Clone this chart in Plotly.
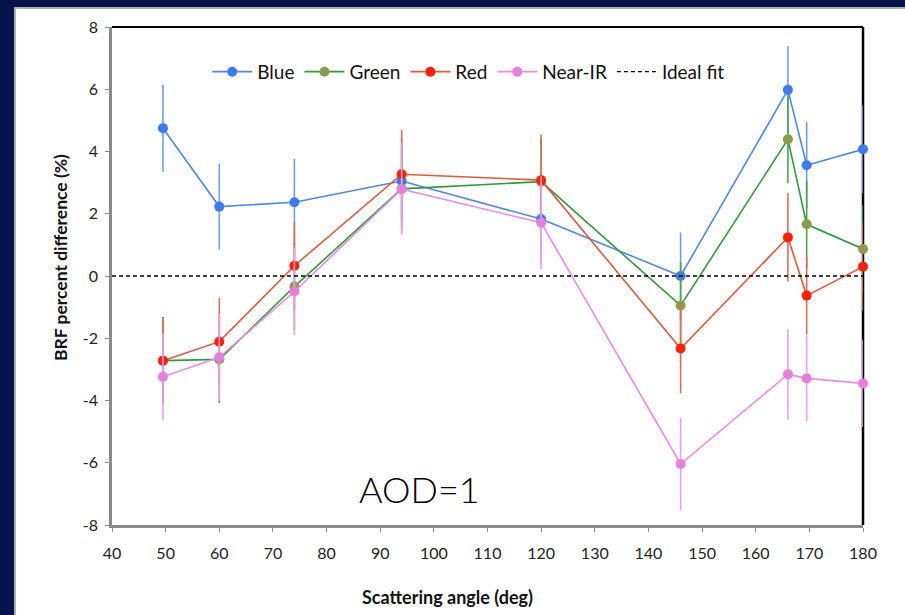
import plotly.graph_objects as go

angles = [49.5, 60, 74, 94, 120, 146, 166, 169.5, 180]
blue = [4.75, 2.23, 2.37, 3.05, 1.83, 0.0, 5.98, 3.56, 4.07]
green = [-2.72, -2.68, -0.34, 2.80, 3.03, -0.95, 4.39, 1.66, 0.87]
red = [-2.72, -2.11, 0.33, 3.27, 3.08, -2.33, 1.24, -0.63, 0.30]
nir = [-3.24, -2.61, -0.50, 2.79, 1.71, -6.04, -3.16, -3.29, -3.45]
err_blue = [1.4, 1.38, 1.4, 1.4, 1.4, 1.4, 1.4, 1.38, 1.4]
err_green = [1.4, 1.4, 1.4, 1.4, 1.4, 1.4, 1.4, 1.4, 1.4]
err_red = [1.4, 1.4, 1.4, 1.42, 1.47, 1.44, 1.42, 1.24, 1.4]
err_nir = [1.4, 1.4, 1.4, 1.47, 1.49, 1.49, 1.45, 1.39, 1.4]
ideal_x = [40, 180]
ideal_y = [0, 0]
y_ticks = [-8, -6, -4, -2, 0, 2, 4, 6, 8]
y_ticklabels = ["-8", "-6", "-4", "-2", "0", "2", "4", "6", "8"]

series = [
    ("Blue", blue, err_blue, "#4f86ee", "#3b7bf2", "#6e9cf0"),
    ("Green", green, err_green, "#2f9a3a", "#8a9d4c", "#4aa84a"),
    ("Red", red, err_red, "#e8553a", "#ff2000", "#e86a50"),
    ("Near-IR", nir, err_nir, "#e88ce8", "#e87de0", "#eba0eb"),
]

fig = go.Figure()
for name, vals, errs, lc, mc, ec in series:
    fig.add_trace(go.Scatter(
        x=angles, y=vals, name=name, mode="lines+markers",
        line=dict(color=lc, width=1.6),
        marker=dict(color=mc, size=10),
        error_y=dict(type="data", array=errs, visible=True, color=ec, thickness=1.6, width=0),
        cliponaxis=False,
    ))
fig.add_trace(go.Scatter(
    x=ideal_x, y=ideal_y, name="Ideal fit", mode="lines",
    line=dict(color="black", width=1.3, dash="4px,3px"),
))

L, R, T, B = 112, 41.5, 27, 90
W, H = 905, 615
pw, ph = W - L - R, H - T - B

def px2x(px):
    return (px - L) / pw

def py2y(py):
    return (H - B - py) / ph

shapes = [
    dict(type="rect", xref="paper", yref="paper", x0=px2x(15), x1=px2x(W + 5),
         y0=py2y(H + 5), y1=py2y(8), fillcolor="white", line=dict(color="#b0b0b0", width=2), layer="below"),
    dict(type="line", xref="paper", yref="paper", x0=0, x1=1, y0=1, y1=1, line=dict(color="black", width=2)),
    dict(type="line", xref="paper", yref="paper", x0=1, x1=1, y0=0, y1=1, line=dict(color="black", width=2.5), layer="below"),
]

annotations = [
    dict(x=97.4, y=-6.85, xref="x", yref="y", text="AOD=1", showarrow=False,
         xanchor="center", yanchor="middle",
         font=dict(size=36, color="black", family="Lato", weight=300)),
    dict(x=px2x(448), y=py2y(597), xref="paper", yref="paper", text="<b>Scattering angle (deg)</b>",
         showarrow=False, xanchor="center", yanchor="middle", font=dict(size=18, color="#111")),
    dict(x=px2x(60), y=py2y(258), xref="paper", yref="paper", text="<b>BRF percent difference (%)</b>",
         showarrow=False, xanchor="center", yanchor="middle", textangle=-90,
         font=dict(size=17.5, color="#111")),
]

fig.update_layout(
    width=W, height=H,
    margin=dict(l=L, r=R, t=T, b=B),
    paper_bgcolor="#06124a",
    plot_bgcolor="white",
    shapes=shapes,
    font=dict(family="Lato, Open Sans, sans-serif", color="#222"),
    showlegend=True,
    legend=dict(orientation="h", x=0.475, y=0.91, xanchor="center", yanchor="middle",
                font=dict(size=19, color="#111"), bgcolor="rgba(0,0,0,0)", itemwidth=40,
                tracegroupgap=0),
    annotations=annotations,
)
fig.update_xaxes(
    range=[40, 180], tickmode="linear", tick0=40, dtick=10,
    showgrid=False, zeroline=False, showline=True, linecolor="#8a8a8a", linewidth=2.5,
    ticks="outside", ticklen=4, tickcolor="#8a8a8a", ticklabelstandoff=8,
    tickfont=dict(size=16, color="#222"),
)
fig.update_yaxes(
    range=[-8, 8], tickmode="array", tickvals=y_ticks, ticktext=y_ticklabels,
    showgrid=False, zeroline=False, showline=True, linecolor="#8a8a8a", linewidth=2.5,
    ticks="outside", ticklen=4, tickcolor="#8a8a8a", ticklabelstandoff=4,
    tickfont=dict(size=16, color="#222"),
)

fig.write_html("out.html")
